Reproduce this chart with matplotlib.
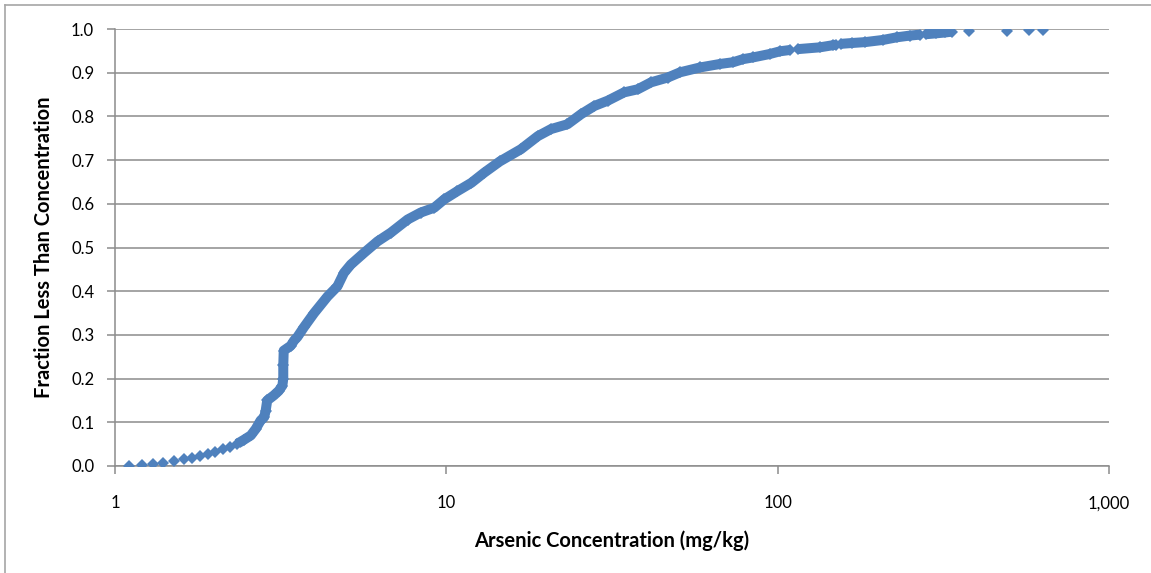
import numpy as np
import matplotlib
matplotlib.use("Agg")
import matplotlib.pyplot as plt
from matplotlib.lines import Line2D

plt.rcParams["font.family"] = ["Lato", "DejaVu Sans"]

BLUE = "#4F81BD"
GRID = "#8C8C8C"

# lowest results, drawn as separate diamonds
low_conc = [1.106, 1.21, 1.30, 1.40, 1.51, 1.61, 1.71, 1.81, 1.91, 2.01, 2.12, 2.23]
low_frac = [0.000, 0.002, 0.005, 0.007, 0.011, 0.015, 0.018, 0.022, 0.027, 0.031, 0.038, 0.044]

# dense part of the distribution (diamonds overlap into a band)
mid_conc = [2.34, 2.45, 2.57, 2.66, 2.75, 2.82, 2.85, 2.88, 3.02, 3.12, 3.20,
            3.22, 3.22, 3.23, 3.39, 3.47, 3.55, 3.72, 3.99, 4.38, 4.69, 4.91,
            5.15, 5.65, 6.20, 6.80, 7.64, 8.37, 9.19, 9.85, 10.8, 11.9, 13.0,
            14.5, 16.8, 18.9, 20.7, 23.2, 25.5, 28.0, 30.7, 34.4, 37.8, 41.5,
            46.6, 50.8, 58.3, 67.0, 73.4, 78.6, 84.3, 94.9, 101.7, 109.0]
mid_frac = [0.051, 0.060, 0.070, 0.085, 0.104, 0.112, 0.127, 0.150, 0.162, 0.172, 0.184,
            0.200, 0.230, 0.264, 0.275, 0.287, 0.295, 0.318, 0.350, 0.388, 0.411, 0.442,
            0.461, 0.488, 0.514, 0.534, 0.564, 0.580, 0.591, 0.610, 0.629, 0.648, 0.671,
            0.697, 0.725, 0.755, 0.771, 0.782, 0.805, 0.824, 0.836, 0.855, 0.862, 0.878,
            0.889, 0.901, 0.912, 0.920, 0.924, 0.931, 0.935, 0.943, 0.949, 0.952]

# upper tail: small clusters and single high results (nan = gap)
nan = np.nan
tail_conc = [115.3, 134.0, 147.0, 150.0, nan,
             155.0, 168.0, 183.6, 208.0, 229.0, 251.0, 268.0, nan,
             280.0, 300.0, 320.0, 336.0, nan,
             378.0, nan, 492.0, nan, 574.0, nan, 632.0]
tail_frac = [0.954, 0.958, 0.963, 0.964, nan,
             0.966, 0.968, 0.970, 0.975, 0.981, 0.985, 0.987, nan,
             0.988, 0.990, 0.992, 0.994, nan,
             0.995, nan, 0.996, nan, 0.997, nan, 0.998]

y_ticks = np.round(np.arange(0, 1.01, 0.1), 1)
x_ticks = [1, 10, 100, 1000]
x_tick_labels = ["1", "10", "100", "1,000"]

fig = plt.figure(figsize=(11.51, 5.73), dpi=100)
ax = fig.add_axes([115 / 1151, 1 - 466 / 573, (1109 - 115) / 1151, (466 - 29) / 573])

ms = 6.3
lw = 7.2
ax.plot(mid_conc, mid_frac, "-", color=BLUE, lw=lw, solid_capstyle="butt",
        solid_joinstyle="round", zorder=3)
ax.plot(tail_conc, tail_frac, "-", color=BLUE, lw=lw, solid_capstyle="butt",
        solid_joinstyle="round", zorder=3)
for xs, ys in [(low_conc, low_frac), (mid_conc, mid_frac), (tail_conc, tail_frac)]:
    ax.plot(xs, ys, "D", color=BLUE, ms=ms, mew=0, zorder=4)

ax.set_xscale("log")
ax.set_xlim(1, 1000)
ax.set_ylim(0, 1)
ax.set_xticks(x_ticks)
ax.set_xticklabels(x_tick_labels)
ax.xaxis.set_minor_locator(matplotlib.ticker.NullLocator())
ax.set_yticks(y_ticks)
ax.set_yticklabels([f"{v:.1f}" for v in y_ticks])
ax.yaxis.grid(True, color=GRID, lw=1.1)
ax.set_axisbelow(True)

for s in ["top", "right"]:
    ax.spines[s].set_visible(False)
for s in ["left", "bottom"]:
    ax.spines[s].set_color(GRID)
    ax.spines[s].set_linewidth(1.1)
ax.tick_params(axis="y", direction="out", length=6, width=1.1, color=GRID,
               labelsize=12, pad=9)
ax.tick_params(axis="x", direction="out", length=6, width=1.1, color=GRID,
               labelsize=12, pad=15)

ax.set_xlabel("Arsenic Concentration (mg/kg)", fontsize=14.5, fontweight="bold",
              labelpad=14)
ax.set_ylabel("Fraction Less Than Concentration", fontsize=14.5, fontweight="bold",
              labelpad=12)

# chart-area border (left and top edges visible in the crop)
fig.add_artist(Line2D([5 / 1151, 5 / 1151], [0, 1 - 5 / 573], color="#A6A6A6", lw=1.2))
fig.add_artist(Line2D([5 / 1151, 1], [1 - 5 / 573, 1 - 5 / 573], color="#A6A6A6", lw=1.2))

fig.savefig("out.png", dpi=100)
